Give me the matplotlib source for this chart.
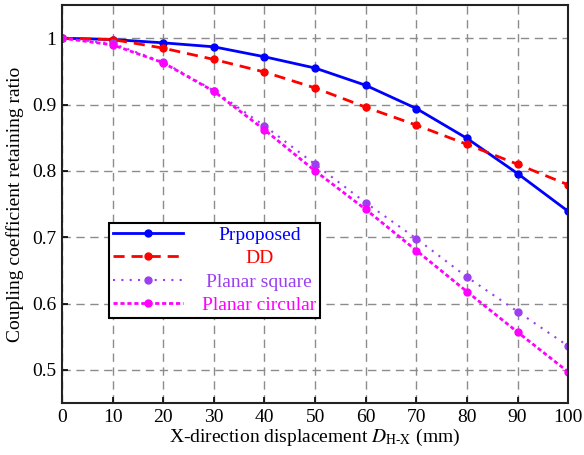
import numpy as np
import matplotlib
matplotlib.use('Agg')
import matplotlib.pyplot as plt

plt.rcParams['font.family'] = ['Liberation Serif', 'DejaVu Serif']
plt.rcParams['mathtext.fontset'] = 'stix'

# data
disp = [0, 10, 20, 30, 40, 50, 60, 70, 80, 90, 100]
proposed = [1.0, 0.998, 0.993, 0.987, 0.972, 0.955, 0.929, 0.894, 0.849, 0.796, 0.739]
dd = [1.0, 0.998, 0.985, 0.968, 0.949, 0.925, 0.896, 0.869, 0.840, 0.810, 0.779]
planar_square = [1.0, 0.992, 0.964, 0.921, 0.868, 0.810, 0.752, 0.698, 0.640, 0.588, 0.536]
planar_circular = [1.0, 0.990, 0.963, 0.920, 0.862, 0.800, 0.742, 0.680, 0.618, 0.557, 0.497]
series_names = ['Prpoposed', 'DD', 'Planar square', 'Planar circular']
yticks = [0.5, 0.6, 0.7, 0.8, 0.9, 1.0]
ytick_labels = ['0.5', '0.6', '0.7', '0.8', '0.9', '1']

fig = plt.figure(figsize=(5.84, 4.55), dpi=100)
ax = fig.add_axes([0.106, 0.114, 0.867, 0.875])

ax.plot(disp, proposed, color='#0000ff', lw=2, marker='o', ms=5, label=series_names[0])
ax.plot(disp, dd, color='#ff0000', lw=2, ls=(0, (4, 2.5)), marker='o', ms=5, label=series_names[1])
ax.plot(disp, planar_square, color='#9b3ff0', lw=1.5, ls=(0, (1, 3)), marker='o', ms=5, label=series_names[2])
ax.plot(disp, planar_circular, color='#ff00ff', lw=2, ls=(0, (1.5, 1)), marker='o', ms=5, label=series_names[3])

ax.set_xlim(0, 100)
ax.set_ylim(0.45, 1.05)
ax.set_xticks(disp)
ax.set_yticks(yticks)
ax.set_yticklabels(ytick_labels)
ax.grid(True, color='#8c8c8c', ls=(0, (6, 4)), lw=1)
ax.tick_params(direction='in', labelsize=14, width=1.2, length=4, pad=4)
for s in ax.spines.values():
    s.set_linewidth(1.5)
    s.set_color('#222222')

ax.set_xlabel(r'X-direction displacement $D_{\mathrm{H}\text{-}\mathrm{X}}$ (mm)', fontsize=14, labelpad=1)
ax.set_ylabel('Coupling coefficient retaining ratio', fontsize=14, labelpad=6)

leg = ax.legend(loc='lower left', bbox_to_anchor=(0.082, 0.2), fontsize=14,
                handlelength=3.6, handletextpad=1.0, labelspacing=0.3,
                fancybox=False, edgecolor='black', framealpha=1,
                borderpad=0.18, borderaxespad=0.3)
leg.get_frame().set_linewidth(1.5)
for t, line in zip(leg.get_texts(), leg.get_lines()):
    t.set_color(line.get_color())

# centre the legend labels like the original
fig.canvas.draw()
widths = [t.get_window_extent().width for t in leg.get_texts()]
wmax = max(widths)
for t, w in zip(leg.get_texts(), widths):
    t.set_x((wmax - w) / 2)

fig.savefig('out.png', dpi=100)
